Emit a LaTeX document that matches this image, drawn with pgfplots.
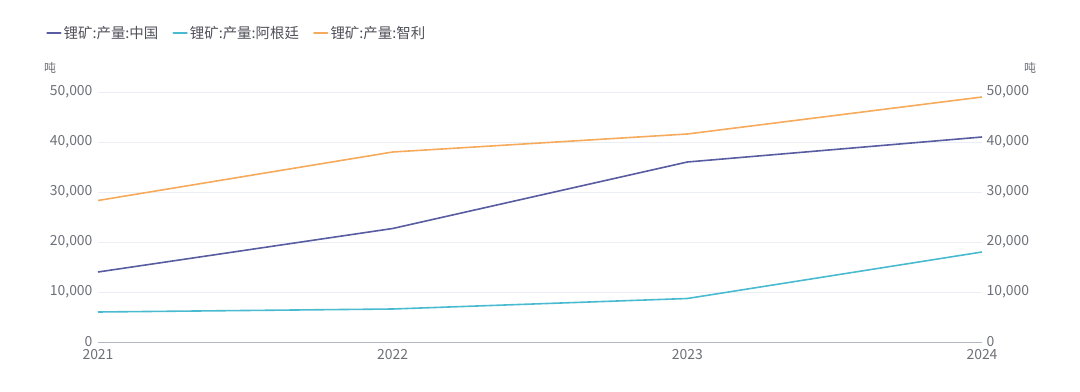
\documentclass[border=0pt]{standalone}
\usepackage{fontspec}
\setmainfont{Noto Sans CJK SC}
\usepackage{pgfplots}
\pgfplotsset{compat=1.18}
\definecolor{cn}{RGB}{88,92,160}
\definecolor{ar}{RGB}{74,186,208}
\definecolor{cl}{RGB}{245,170,92}
\definecolor{gridc}{RGB}{236,238,245}
\definecolor{axisc}{RGB}{180,184,198}
\definecolor{labc}{RGB}{110,112,121}
\definecolor{legc}{RGB}{80,80,90}
\begin{document}
\begin{tikzpicture}
\path[use as bounding box] (-98bp,-50bp) rectangle (982bp,342bp);
\begin{axis}[
  scale only axis, width=884bp, height=250bp,
  xmin=2021, xmax=2024, ymin=0, ymax=50000,
  scaled y ticks=false, scaled x ticks=false,
  xtick={2021,2022,2023,2024}, xticklabels={2021,2022,2023,2024},
  ytick={0,10000,20000,30000,40000,50000},
  yticklabels={0,{10,000},{20,000},{30,000},{40,000},{50,000}},
  axis line style={draw=none},
  major tick length=0,
  ymajorgrids, grid style={gridc, line width=0.8bp},
  tick label style={font=\fontsize{14}{16}\selectfont, text=labc},
  xticklabel style={yshift=-4bp},
  yticklabel style={xshift=-2bp},
  clip=false,
  legend style={at={(axis description cs:0,1)}, anchor=west, xshift=-55bp, yshift=59bp,
    draw=none, fill=none, legend columns=-1, font=\fontsize{14.5}{16}\selectfont, text=legc,
    /tikz/every even column/.append style={column sep=12bp}},
  legend image code/.code={\draw[line width=2.5bp, line cap=round] (0bp,0bp) -- (13bp,0bp);},
]
\draw[axisc, line width=0.8bp] (rel axis cs:0,0) -- (rel axis cs:1,0);
\addplot[cn, line width=1.6bp, no markers] coordinates {(2021,14000)(2022,22700)(2023,36000)(2024,41000)};
\addlegendentry{锂矿:产量:中国}
\addplot[ar, line width=1.6bp, no markers] coordinates {(2021,6000)(2022,6600)(2023,8700)(2024,18000)};
\addlegendentry{锂矿:产量:阿根廷}
\addplot[cl, line width=1.6bp, no markers] coordinates {(2021,28300)(2022,38000)(2023,41600)(2024,49000)};
\addlegendentry{锂矿:产量:智利}
\node[font=\fontsize{12}{14}\selectfont, text=labc] at ([xshift=-48bp,yshift=24bp]rel axis cs:0,1) {吨};
\node[font=\fontsize{12}{14}\selectfont, text=labc] at ([xshift=48bp,yshift=24bp]rel axis cs:1,1) {吨};
\end{axis}
\begin{axis}[
  scale only axis, width=884bp, height=250bp,
  xmin=2021, xmax=2024, ymin=0, ymax=50000,
  scaled y ticks=false,
  xtick=\empty,
  ytick={0,10000,20000,30000,40000,50000},
  yticklabels={0,{10,000},{20,000},{30,000},{40,000},{50,000}},
  yticklabel pos=right,
  axis line style={draw=none},
  major tick length=0,
  tick label style={font=\fontsize{14}{16}\selectfont, text=labc},
  yticklabel style={xshift=1bp},
]
\end{axis}
\end{tikzpicture}
\end{document}
